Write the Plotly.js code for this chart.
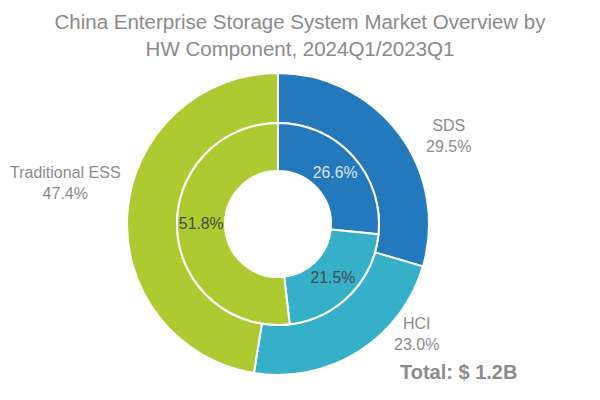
<!DOCTYPE html>
<html>
<head>
<meta charset="utf-8">
<script src="https://cdn.plot.ly/plotly-3.0.1.min.js"></script>
<style>html,body{margin:0;padding:0;background:#fff;}#chart{width:600px;height:400px;}</style>
</head>
<body>
<div id="chart"></div>
<script>
// Data
const categories = ['SDS', 'HCI', 'Traditional ESS'];
const outer2024Q1 = [29.5, 23.0, 47.4];
const inner2023Q1 = [26.6, 21.5, 51.8];
const colors = ['#2479bd', '#36afc8', '#adca31'];
const totalLabel = 'Total: $ 1.2B';
const titleText = 'China Enterprise Storage System Market Overview by<br>HW Component, 2024Q1/2023Q1';

const FONT = 'Liberation Sans, Arial, sans-serif';

// Pixel geometry helpers (600x400, margins 0)
const W = 600, H = 400;
const cx = 278, cy = 224;
const Rout = 151, Rmid = 101, Rhole = 53;
function dom(r) {
  return {
    x: [(cx - r) / W, (cx + r) / W],
    y: [(H - cy - r) / H, (H - cy + r) / H]
  };
}

const outerTrace = {
  type: 'pie',
  labels: categories,
  values: outer2024Q1,
  sort: false,
  direction: 'clockwise',
  rotation: 0,
  hole: Rmid / Rout,
  domain: dom(Rout),
  marker: { colors: colors, line: { color: '#ffffff', width: 2 } },
  textinfo: 'none',
  hoverinfo: 'label+value',
  showlegend: false
};

const innerTrace = {
  type: 'pie',
  labels: categories,
  values: inner2023Q1,
  sort: false,
  direction: 'clockwise',
  rotation: 0,
  hole: Rhole / Rmid,
  domain: dom(Rmid),
  marker: { colors: colors, line: { color: '#ffffff', width: 2 } },
  text: inner2023Q1.map(v => v.toFixed(1) + '%'),
  textinfo: 'text',
  textposition: 'inside',
  insidetextorientation: 'horizontal',
  insidetextfont: { family: FONT, size: 17, color: ['#dde3ee', '#4a4a4a', '#4a4a4a'] },
  hoverinfo: 'label+value',
  showlegend: false
};

// Outer label positions (pixels)
const labelPos = [[448, 136], [416, 334], [65, 183]];
const annotations = categories.map((c, i) => ({
  text: c + '<br>' + outer2024Q1[i].toFixed(1) + '%',
  x: labelPos[i][0] / W,
  y: 1 - labelPos[i][1] / H,
  xref: 'paper', yref: 'paper',
  xanchor: 'center', yanchor: 'middle',
  align: 'center',
  showarrow: false,
  font: { family: FONT, size: 16, color: '#8c8c8c' }
}));
annotations.push({
  text: '<b>' + totalLabel + '</b>',
  x: 458 / W, y: 1 - 372 / H,
  xref: 'paper', yref: 'paper',
  xanchor: 'center', yanchor: 'middle',
  showarrow: false,
  font: { family: FONT, size: 20, color: '#8c8c8c' }
});

const layout = {
  width: W, height: H,
  margin: { l: 0, r: 0, t: 0, b: 0 },
  paper_bgcolor: '#ffffff',
  title: {
    text: titleText,
    x: 0.5, xanchor: 'center',
    y: 1 - 29 / H, yanchor: 'top', yref: 'container',
    font: { family: FONT, size: 20.5, color: '#8a8a8a' }
  },
  annotations: annotations,
  showlegend: false
};

Plotly.newPlot('chart', [outerTrace, innerTrace], layout, { displayModeBar: false, staticPlot: true });
</script>
</body>
</html>
